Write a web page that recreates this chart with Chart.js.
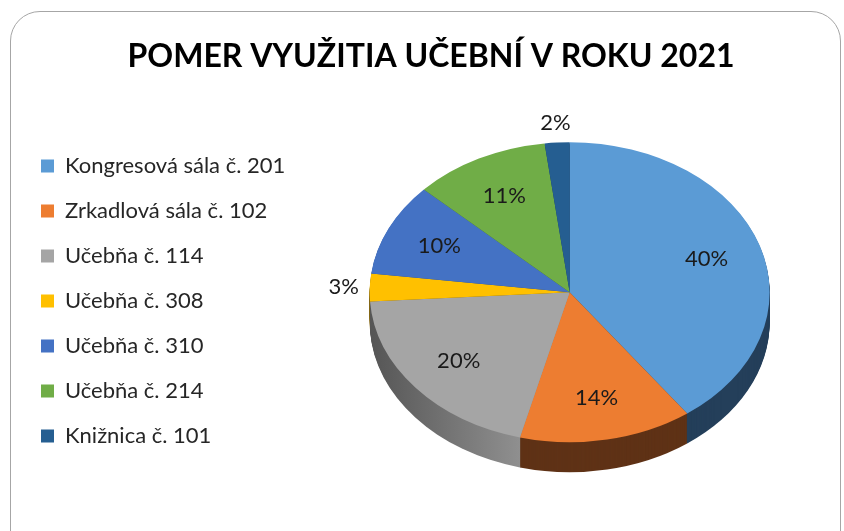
<!DOCTYPE html>
<html>
<head>
<meta charset="utf-8">
<script src="https://cdn.jsdelivr.net/npm/chart.js@4"></script>
<style>
  html, body { margin: 0; padding: 0; background: #fff; overflow: hidden; }
  #wrap { position: relative; width: 844px; height: 531px; overflow: hidden; }
  #frame { position: absolute; left: 10px; top: 11px; width: 829px; height: 600px;
           border: 1px solid #a6a6a6; border-radius: 30px; }
  canvas { position: absolute; left: 0; top: 0; }
</style>
</head>
<body>
<div id="wrap">
  <div id="frame"></div>
  <canvas id="chart" width="844" height="531"></canvas>
</div>
<script>
// data
const rooms = [
    'Kongresová sála č. 201',
    'Zrkadlová sála č. 102',
    'Učebňa č. 114',
    'Učebňa č. 308',
    'Učebňa č. 310',
    'Učebňa č. 214',
    'Knižnica č. 101'
];
const shares = [40, 14, 20, 3, 10, 11, 2];

const colors = ['#5B9BD5', '#ED7D31', '#A5A5A5', '#FFC000', '#4472C4', '#70AD47', '#255E91'];
const sideColors = ['#243F5A', '#5F3216', '#6E6E6E', '#7A5C00', '#2A4678', '#3F6428', '#173A59'];

const TILT = 0.75;   // vertical squash of the pie
const DEPTH = 30;    // thickness of the 3d side

function squash(ctx, cy) {
    ctx.translate(0, cy);
    ctx.scale(1, TILT);
    ctx.translate(0, -cy);
}

function sideFill(ctx, i, cx, r) {
    if (i !== 2) return sideColors[i];
    // grey wall gets lighter toward the front
    const g = ctx.createLinearGradient(cx - r, 0, cx - r * 0.2, 0);
    g.addColorStop(0, '#555555');
    g.addColorStop(1, '#939393');
    return g;
}

const pie3d = {
    id: 'pie3d',
    beforeDatasetsDraw(chart) {
        const ctx = chart.ctx;
        const arcs = chart.getDatasetMeta(0).data;
        const cx = arcs[0].x, cy = arcs[0].y;
        for (let d = DEPTH; d > 0; d--) {
            arcs.forEach((arc, i) => {
                ctx.save();
                ctx.translate(0, d);
                squash(ctx, cy);
                ctx.beginPath();
                ctx.moveTo(cx, cy);
                ctx.arc(cx, cy, arc.outerRadius, arc.startAngle, arc.endAngle);
                ctx.closePath();
                ctx.fillStyle = sideFill(ctx, i, cx, arc.outerRadius);
                ctx.fill();
                ctx.restore();
            });
        }
        ctx.save();
        squash(ctx, cy);
    },
    afterDatasetsDraw(chart) {
        const ctx = chart.ctx;
        ctx.restore();
        const arcs = chart.getDatasetMeta(0).data;
        ctx.save();
        ctx.font = '22px Lato';
        ctx.fillStyle = '#1a1a1a';
        ctx.textAlign = 'center';
        ctx.textBaseline = 'middle';
        arcs.forEach((arc, i) => {
            const mid = (arc.startAngle + arc.endAngle) / 2;
            const r = shares[i] < 5 ? arc.outerRadius + 26 : arc.outerRadius * 0.72;
            const x = arc.x + Math.cos(mid) * r;
            const y = arc.y + Math.sin(mid) * r * TILT;
            ctx.fillText(shares[i] + '%', x, y);
        });
        ctx.restore();
    }
};

new Chart(document.getElementById('chart'), {
    type: 'pie',
    data: {
        labels: rooms,
        datasets: [{ data: shares, backgroundColor: colors, borderWidth: 0 }]
    },
    options: {
        responsive: false,
        animation: false,
        events: [],
        radius: 200,
        layout: { padding: { left: 18, right: 0, top: 0, bottom: 34 } },
        plugins: {
            title: {
                display: true,
                text: 'POMER VYUŽITIA UČEBNÍ V ROKU 2021',
                color: '#000',
                font: { family: 'Lato', size: 32, weight: 'bold' },
                padding: { top: 37, bottom: 12 }
            },
            legend: {
                position: 'left',
                // empty title only pushes the entries down
                title: { display: true, text: '', padding: { top: 0, bottom: 93 }, font: { size: 10 } },
                labels: {
                    boxWidth: 13,
                    boxHeight: 13,
                    padding: 23,
                    color: '#262626',
                    font: { family: 'Lato', size: 22 }
                }
            },
            tooltip: { enabled: false }
        }
    },
    plugins: [pie3d]
});
</script>
</body>
</html>
